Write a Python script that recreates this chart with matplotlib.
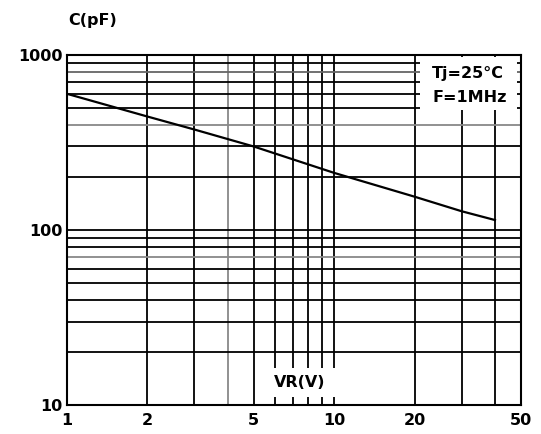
import matplotlib.pyplot as plt
from matplotlib.patches import Rectangle

# capacitance vs reverse voltage (log-log)
vr = [1, 2, 3, 5, 10, 20, 30, 40]
cap = [600, 445, 375, 300, 212, 155, 128, 114]

x_ticks = [1, 2, 5, 10, 20, 50]
x_labels = ["1", "2", "5", "10", "20", "50"]
y_ticks = [10, 100, 1000]
y_labels = ["10", "100", "1000"]

plt.rcParams['font.family'] = ['DejaVu Sans']
plt.rcParams['font.weight'] = 'bold'
fs = 11.5

fig = plt.figure(figsize=(5.41, 4.34), dpi=100)
ax = fig.add_axes([0.1238, 0.0668, 0.839, 0.8065])
ax.set_xscale('log')
ax.set_yscale('log')
ax.set_xlim(1, 50)
ax.set_ylim(10, 1000)

ax.set_xticks(x_ticks)
ax.set_xticklabels(x_labels)
ax.set_yticks(y_ticks)
ax.set_yticklabels(y_labels)
ax.tick_params(which='both', length=0, labelsize=fs)
ax.tick_params(axis='x', pad=6)
ax.tick_params(axis='y', pad=3)

ax.set_axisbelow(True)
ax.grid(True, which='both', color='black', lw=1.3)

# a few lines come out lighter in print
fig.canvas.draw()
xlocs = ax.xaxis.get_minorticklocs()
for loc, tick in zip(xlocs, ax.xaxis.get_minor_ticks(len(xlocs))):
    if abs(loc - 4) < 1e-6:
        tick.gridline.set_color('#888888')
ylocs = ax.yaxis.get_minorticklocs()
light = {400: '#888888', 70: '#888888', 800: '#666666'}
for loc, tick in zip(ylocs, ax.yaxis.get_minor_ticks(len(ylocs))):
    for v, c in light.items():
        if abs(loc - v) < 1e-6:
            tick.gridline.set_color(c)

for s in ax.spines.values():
    s.set_linewidth(1.5)
    s.set_zorder(5)

# white patches behind the labels inside the plot
ax.add_patch(Rectangle((21, 485), 48.5 - 21, 975 - 485, facecolor='white',
                       edgecolor='none', zorder=1))
ax.add_patch(Rectangle((5.76, 11.1), 10.5 - 5.76, 16.3 - 11.1, facecolor='white',
                       edgecolor='none', zorder=1))

ax.plot(vr, cap, color='black', lw=1.6, zorder=3)

ax.text(23.3, 789, "Tj=25°C", fontsize=fs, fontweight='bold', ha='left', va='center', zorder=4)
ax.text(23.3, 568, "F=1MHz", fontsize=fs, fontweight='bold', ha='left', va='center', zorder=4)
ax.text(7.46, 13.4, "VR(V)", fontsize=fs, fontweight='bold', ha='center', va='center', zorder=4)

fig.text(93 / 541, 1 - 20 / 434, "C(pF)", fontsize=fs, fontweight='bold', ha='center', va='center')

fig.savefig("out.png", dpi=100)
